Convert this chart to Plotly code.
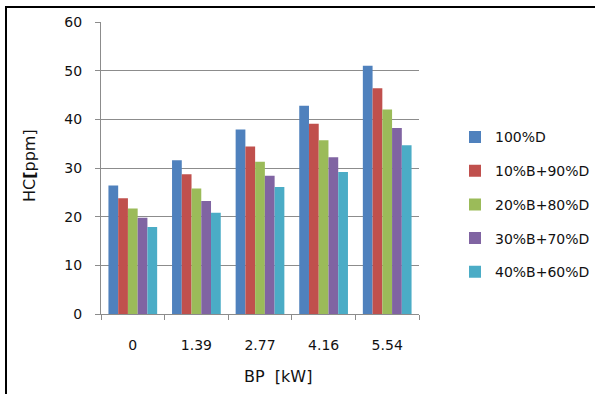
import plotly.graph_objects as go

# Brake power categories (kW)
bp_labels = ["0", "1.39", "2.77", "4.16", "5.54"]

# HC emissions (ppm) for each fuel blend
hc_100d = [26.4, 31.6, 37.9, 42.8, 51.0]
hc_b10 = [23.8, 28.7, 34.4, 39.1, 46.4]
hc_b20 = [21.7, 25.8, 31.3, 35.7, 42.0]
hc_b30 = [19.8, 23.2, 28.4, 32.2, 38.2]
hc_b40 = [17.9, 20.8, 26.1, 29.2, 34.7]

series_names = ["100%D", "10%B+90%D", "20%B+80%D", "30%B+70%D", "40%B+60%D"]
series_values = [hc_100d, hc_b10, hc_b20, hc_b30, hc_b40]
series_colors = ["#4F81BD", "#C0504D", "#9BBB59", "#8064A2", "#4BACC6"]

FONT = "DejaVu Sans"
TXT = "#111111"
GRID = "#8c8c8c"

fig = go.Figure()
for i, (name, vals, col) in enumerate(zip(series_names, series_values, series_colors)):
    fig.add_trace(go.Bar(
        x=bp_labels, y=vals, name=name,
        marker=dict(color=col, line=dict(width=0)),
        legendgroup=f"g{i}",
    ))

W, H = 595, 394
ml, mr, mt, mb = 101, 176, 22, 80
pw, ph = W - ml - mr, H - mt - mb

def px_x(p):
    return (p - ml) / pw

def px_y(p):
    return (H - mb - p) / ph

fig.update_layout(
    width=W, height=H,
    margin=dict(l=ml, r=mr, t=mt, b=mb, pad=0, autoexpand=False),
    paper_bgcolor="white", plot_bgcolor="white",
    barmode="group", bargap=0.234, bargroupgap=0,
    font=dict(family=FONT, size=14, color=TXT),
    showlegend=True,
    legend=dict(
        x=px_x(455), y=px_y(204.4), xanchor="left", yanchor="middle",
        traceorder="grouped", tracegroupgap=12.5,
        font=dict(family=FONT, size=14, color=TXT),
        bgcolor="rgba(0,0,0,0)", borderwidth=0,
    ),
    xaxis=dict(
        type="category", showgrid=False,
        showline=True, linecolor=GRID, linewidth=1,
        ticks="outside", tickson="boundaries", ticklen=5, tickcolor=GRID,
        ticklabelstandoff=18,
        tickfont=dict(family=FONT, size=14, color=TXT),
    ),
    yaxis=dict(
        range=[0, 60], dtick=10, showgrid=True, gridcolor=GRID, gridwidth=1,
        showline=True, linecolor=GRID, linewidth=1,
        ticks="outside", ticklen=5, tickcolor=GRID,
        ticklabelstandoff=10, zeroline=False,
        tickfont=dict(family=FONT, size=14, color=TXT),
    ),
    annotations=[
        dict(text="BP\u00a0\u00a0[kW]", xref="paper", yref="paper",
             x=px_x(278), y=px_y(376), xanchor="center", yanchor="middle",
             showarrow=False, font=dict(family=FONT, size=16, color=TXT)),
        dict(text="HC<b>[</b>ppm]", xref="paper", yref="paper",
             x=px_x(29), y=px_y(166), xanchor="center", yanchor="middle",
             textangle=-90, showarrow=False,
             font=dict(family=FONT, size=16, color=TXT)),
    ],
    shapes=[
        dict(type="rect", xref="paper", yref="paper",
             x0=px_x(6), x1=px_x(640), y0=px_y(440), y1=px_y(7),
             line=dict(color="#000000", width=2), fillcolor="rgba(0,0,0,0)",
             layer="below"),
    ],
)

fig.write_html("out.html")
